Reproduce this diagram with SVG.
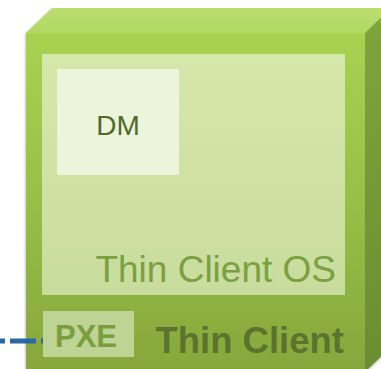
<svg xmlns="http://www.w3.org/2000/svg" width="381" height="369" viewBox="0 0 381 369">
<defs>
<linearGradient id="front" x1="0" y1="0" x2="0" y2="1">
<stop offset="0" stop-color="#a8d250"/>
<stop offset="0.5" stop-color="#98bf46"/>
<stop offset="1" stop-color="#86a73c"/>
</linearGradient>
<linearGradient id="top" x1="0" y1="0" x2="0" y2="1">
<stop offset="0" stop-color="#bcdd72"/>
<stop offset="1" stop-color="#b1d862"/>
</linearGradient>
<linearGradient id="side" x1="0" y1="0" x2="0" y2="1">
<stop offset="0" stop-color="#80a53c"/>
<stop offset="1" stop-color="#6c8c32"/>
</linearGradient>
<linearGradient id="os" x1="0" y1="0" x2="0" y2="1">
<stop offset="0" stop-color="#d5e8aa"/>
<stop offset="1" stop-color="#c8dc9e"/>
</linearGradient>
<filter id="sh" x="-5%" y="-5%" width="110%" height="110%">
<feGaussianBlur stdDeviation="1.2"/>
</filter>
<style>
.lbl{font-family:"Liberation Sans",Arial,sans-serif}
</style>
</defs>
<g id="thin-client">
<polygon points="25,34 51,9 392,9 392,348 366,373 25,373" fill="#9a9a9a" opacity="0.5" filter="url(#sh)"/>
<polygon points="26,33 52,8 391,8 365,33" fill="url(#top)"/>
<polygon points="365,33 391,8 391,347 365,372" fill="url(#side)"/>
<rect x="26" y="33" width="339" height="339" fill="url(#front)"/>
<text class="lbl" x="344" y="353" text-anchor="end" font-size="36.5" font-weight="bold" fill="#5a742e">Thin Client</text>
</g>
<g id="os">
<rect x="42" y="54" width="303" height="241" fill="url(#os)"/>
<text class="lbl" x="336" y="282" text-anchor="end" font-size="37" fill="#7ba03f">Thin Client OS</text>
</g>
<g id="dm">
<rect x="57" y="69" width="122" height="106" fill="#ecf4dc"/>
<text class="lbl" x="118" y="135" text-anchor="middle" font-size="28" fill="#4f6a2a">DM</text>
</g>
<g id="connectors">
<line x1="0" y1="341" x2="43" y2="341" stroke="#2c68a6" stroke-width="5" stroke-dasharray="26,5" stroke-dashoffset="21"/>
</g>
<g id="pxe">
<rect x="43" y="311" width="91" height="46" fill="#bdd494"/>
<text class="lbl" x="86" y="347" text-anchor="middle" font-size="31" font-weight="bold" fill="#7a9e3e">PXE</text>
</g>
</svg>
